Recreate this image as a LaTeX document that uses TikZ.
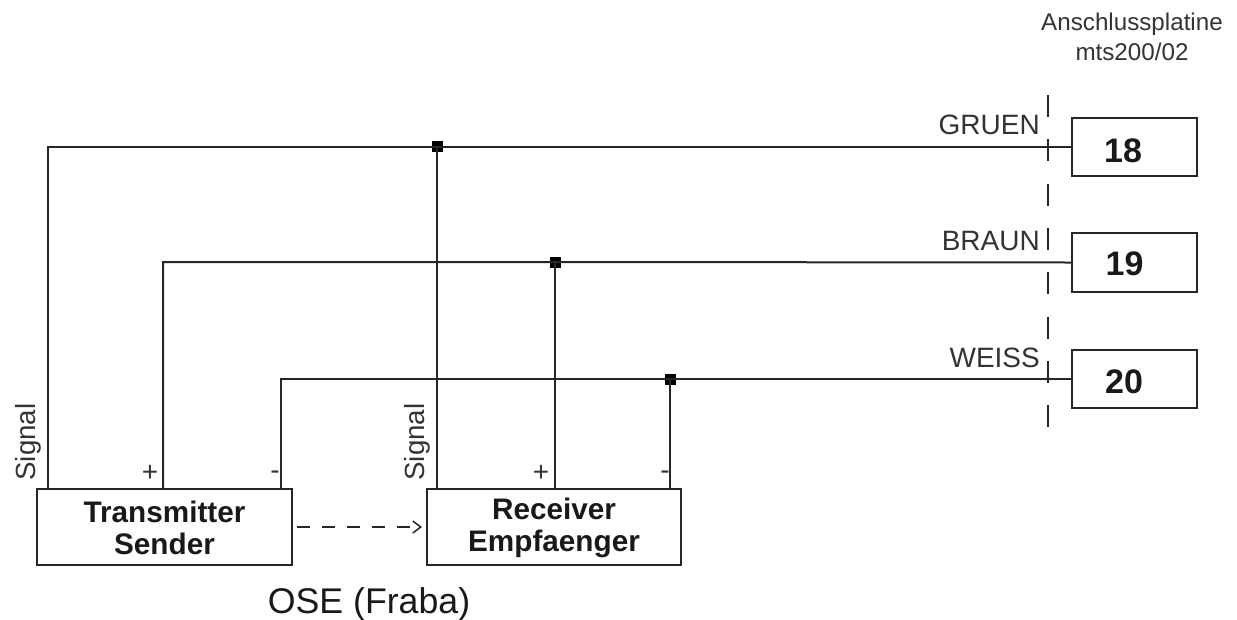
\documentclass[tikz,border=0pt]{standalone}
\usepackage{fontspec}
\setmainfont{Liberation Sans}
\usetikzlibrary{arrows.meta,calc}
\newcommand{\twolines}[2]{\parbox{230pt}{\centering\baselineskip=32pt\vspace*{2pt}#1\\#2}}
\newcommand{\termtext}[3]{#3\phantom{\rule{#1}{#2}}}
\tikzset{
 wire/.style={draw=black!85,line width=2pt},
 boxn/.style={draw=black!85,line width=2pt,fill=white,inner sep=0pt,font=\fontsize{29.7}{32}\selectfont\bfseries,text=black!90},
 termn/.style={draw=black!85,line width=2pt,fill=white,inner sep=0pt,minimum width=125pt,font=\fontsize{34}{36}\selectfont\bfseries,text=black!90},
 junc/.style={fill=black,inner sep=0pt,minimum width=11pt,minimum height=11pt},
 lab/.style={inner sep=0pt,font=\fontsize{28}{30}\selectfont,text=black!80},
 small/.style={inner sep=0pt,font=\fontsize{27.7}{30}\selectfont,text=black!80,rotate=90}
}
\begin{document}
\begin{tikzpicture}[x=1pt,y=-1pt]
\useasboundingbox (0,0) rectangle (1237,619);
% main boxes
\node[boxn,minimum width=255pt,minimum height=76pt] (tx) at (164.5,527) {\twolines{Transmitter}{Sender}};
\node[boxn,minimum width=254pt,minimum height=76pt] (rx) at (554,527) {\twolines{Receiver}{Empfaenger}};
% terminals
\node[termn,minimum height=58pt] (t18) at (1134.5,146.5) {\termtext{23pt}{33pt}{18}};
\node[termn,minimum height=59pt] (t19) at (1134.5,262.5) {\termtext{20pt}{27pt}{19}};
\node[termn,minimum height=58pt] (t20) at (1134.5,379) {\termtext{21pt}{29pt}{20}};
% junctions
\node[junc] (j1) at (437,146.5) {};
\node[junc] (j2) at (555,262) {};
\node[junc] (j3) at (670,379) {};
% corners and feet
\coordinate (c1) at (48,146.5);
\coordinate (c2) at (163,262);
\coordinate (c3) at (281,379);
\coordinate (f1) at (48,489);
\coordinate (f2) at (163,489);
\coordinate (f3) at (281,489);
\coordinate (g1) at (437,489);
\coordinate (g2) at (555,489);
\coordinate (g3) at (670,489);
% wires
\draw[wire] (f1) -- (c1) -- (j1.center) -- (t18.west);
\draw[wire] (f2) -- (c2) -- (j2.center) -- (t19.west);
\draw[wire] (f3) -- (c3) -- (j3.center) -- (t20.west);
\draw[wire] (j1.center) -- (g1);
\draw[wire] (j2.center) -- (g2);
\draw[wire] (j3.center) -- (g3);
% boundary
\coordinate (b1) at (1048,95);
\coordinate (b2) at (1048,429);
\draw[line width=2pt,draw=black!85,dash pattern=on 22pt off 22.3pt] (b1) -- (b2);
% dashed arrow
\draw[line width=1.5pt,draw=black!85,dash pattern=on 13pt off 12pt,-{Straight Barb[length=8pt,width=12pt]}] ($(tx.east)+(4,0)$) -- ($(rx.west)+(-4,0)$);
% labels
\node[small] (s1) at (28,442) {Signal};
\node[small] (s2) at (417.5,442) {Signal};
\node[lab] (p1) at (150,473) {+};
\node[lab] (p2) at (541,473) {+};
\node[lab] (m1) at (275,475) {-};
\node[lab] (m2) at (665,475) {-};
\node[lab,anchor=east] (gr) at (1040,125) {GRUEN};
\node[lab,anchor=east] (br) at (1040,241) {BRAUN};
\node[lab,anchor=east] (we) at (1040,358) {WEISS};
\node[inner sep=0pt,align=center,font=\fontsize{24.2}{30}\selectfont,text=black!80] (an) at (1132,37) {Anschlussplatine\\mts200/02};
\node[inner sep=0pt,font=\fontsize{35.7}{38}\selectfont,text=black!90] (ose) at (369,604) {OSE (Fraba)};
\end{tikzpicture}
\end{document}
